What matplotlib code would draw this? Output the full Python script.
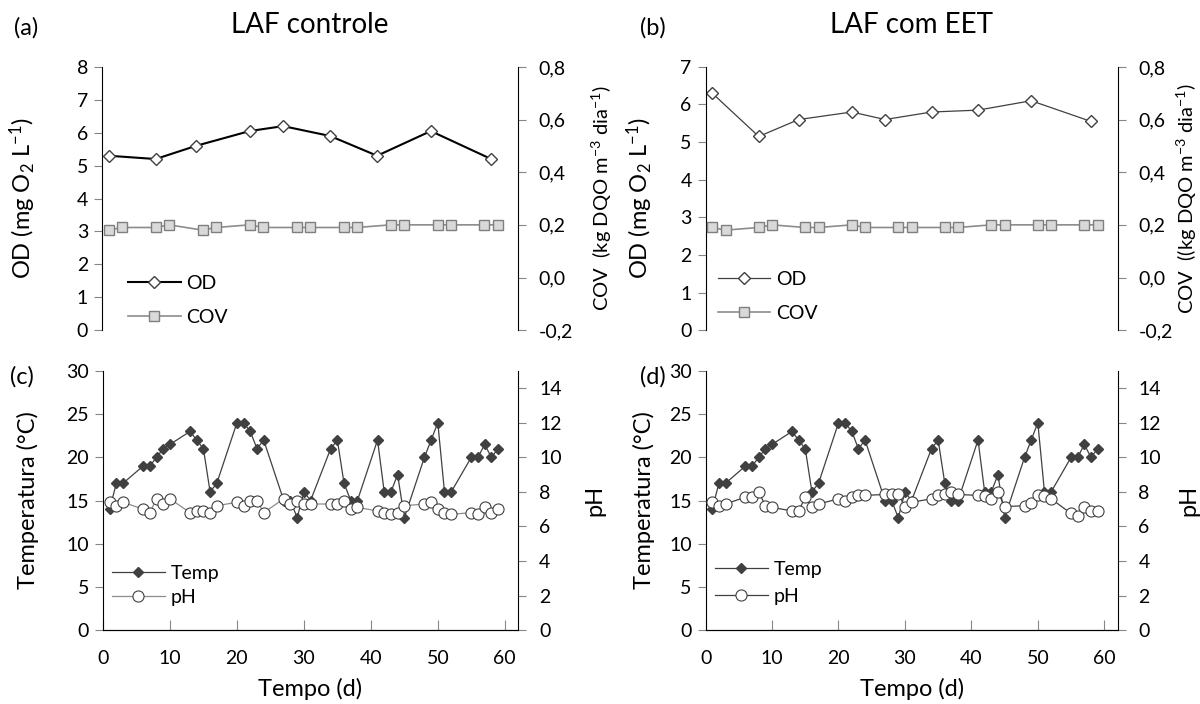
import numpy as np
import matplotlib
matplotlib.use("Agg")
import matplotlib.pyplot as plt
from matplotlib.ticker import FuncFormatter

plt.rcParams['font.family'] = ['Lato', 'DejaVu Sans']
plt.rcParams['mathtext.default'] = 'regular'

# OD and COV (top panels)
od_days = [1, 8, 14, 22, 27, 34, 41, 49, 58]
od_control = [5.3, 5.2, 5.6, 6.05, 6.2, 5.9, 5.3, 6.05, 5.2]
od_eet = [6.3, 5.15, 5.6, 5.8, 5.6, 5.8, 5.85, 6.1, 5.55]

cov_days = [1, 3, 8, 10, 15, 17, 22, 24, 29, 31, 36, 38, 43, 45, 50, 52, 57, 59]
cov_control = [0.18, 0.19, 0.19, 0.20, 0.18, 0.19, 0.20, 0.19, 0.19,
               0.19, 0.19, 0.19, 0.20, 0.20, 0.20, 0.20, 0.20, 0.20]
cov_eet = [0.19, 0.18, 0.19, 0.20, 0.19, 0.19, 0.20, 0.19, 0.19,
           0.19, 0.19, 0.19, 0.20, 0.20, 0.20, 0.20, 0.20, 0.20]

# Temperature and pH (bottom panels)
days = [1, 2, 3, 6, 7, 8, 9, 10, 13, 14, 15, 16, 17, 20, 21, 22, 23, 24,
        27, 28, 29, 30, 31, 34, 35, 36, 37, 38, 41, 42, 43, 44, 45,
        48, 49, 50, 51, 52, 55, 56, 57, 58, 59]
temp_control = [14, 17, 17, 19, 19, 20, 21, 21.5, 23, 22, 21, 16, 17, 24, 24, 23, 21, 22,
                15, 15, 13, 16, 15, 21, 22, 17, 15, 15, 22, 16, 16, 18, 13,
                20, 22, 24, 16, 16, 20, 20, 21.5, 20, 21]
temp_eet = [14, 17, 17, 19, 19, 20, 21, 21.5, 23, 22, 21, 16, 17, 24, 24, 23, 21, 22,
            15, 15, 13, 16, 15, 21, 22, 17, 15, 15, 22, 16, 16, 18, 13,
            20, 22, 24, 16, 16, 20, 20, 21.5, 20, 21]
ph_control = [7.4, 7.2, 7.4, 7.0, 6.8, 7.6, 7.3, 7.6, 6.8, 6.9, 6.9, 6.8, 7.2, 7.4, 7.2, 7.5, 7.5, 6.8,
              7.6, 7.3, 7.5, 7.3, 7.3, 7.3, 7.3, 7.5, 7.0, 7.1, 6.9, 6.8, 6.7, 6.8, 7.2,
              7.3, 7.4, 7.0, 6.8, 6.7, 6.8, 6.7, 7.1, 6.8, 7.0]
ph_eet = [7.4, 7.2, 7.3, 7.7, 7.7, 8.0, 7.2, 7.1, 6.9, 6.9, 7.7, 7.1, 7.3, 7.6, 7.5, 7.7, 7.8, 7.8,
          7.85, 7.85, 7.9, 7.15, 7.4, 7.6, 7.8, 7.9, 8.0, 7.85, 7.8, 7.75, 7.6, 8.0, 7.15,
          7.2, 7.35, 7.8, 7.75, 7.6, 6.75, 6.6, 7.1, 6.9, 6.9]

TICK = 14
LABEL = 17
TICKCOL = '#868686'

fig = plt.figure(figsize=(12, 7.04), dpi=100)


def comma(v, pos):
    return ("%.1f" % v).replace(".", ",")


def base_axes(rect, bottom_axis):
    ax = fig.add_axes(rect)
    ax2 = ax.twinx()
    for a in (ax, ax2):
        a.spines['top'].set_visible(False)
        a.spines['bottom'].set_visible(bottom_axis)
        a.set_xlim(0, 62)
    ax2.spines['left'].set_visible(False)
    ax.spines['right'].set_visible(False)
    ax.tick_params(axis='y', direction='out', length=6, color=TICKCOL, labelsize=TICK, pad=4)
    ax2.tick_params(axis='y', direction='out', length=6, color=TICKCOL, labelsize=TICK, pad=9)
    if bottom_axis:
        ax.tick_params(axis='x', direction='in', length=7, color=TICKCOL, labelsize=TICK, pad=14)
        ax.set_xticks(range(0, 61, 10))
        ax.set_xlabel('Tempo (d)', fontsize=LABEL)
        ax.xaxis.set_label_coords(0.5, -0.185)
    else:
        ax.tick_params(axis='x', bottom=False, labelbottom=False)
    ax2.tick_params(axis='x', bottom=False, labelbottom=False)
    return ax, ax2


def top_panel(rect, od, cov, od_ymax, od_lw, od_col, cov_label, left_x, right_x, leg_pos):
    ax, ax2 = base_axes(rect, False)
    l1, = ax.plot(od_days, od, color=od_col, lw=od_lw, marker='D', ms=6.6,
                  mfc='white', mec='#404040', mew=1, label='OD')
    l2, = ax2.plot(cov_days, cov, color='#8c8c8c', lw=1.2, marker='s', ms=7.7,
                   mfc='#d9d9d9', mec='#7f7f7f', mew=1, label='COV')
    ax.set_ylim(0, od_ymax)
    ax.set_yticks(range(0, od_ymax + 1))
    ax2.set_ylim(-0.2, 0.8)
    ax2.set_yticks(np.arange(-0.2, 0.81, 0.2))
    ax2.yaxis.set_major_formatter(FuncFormatter(comma))
    ax.set_ylabel('OD (mg O$_2$ L$^{-1}$)', fontsize=LABEL)
    ax.yaxis.set_label_coords(left_x, 0.5)
    ax2.set_ylabel(cov_label, fontsize=14.5)
    ax2.yaxis.set_label_coords(right_x, 0.5)
    ax2.legend([l1, l2], ['OD', 'COV'], loc='center left', bbox_to_anchor=leg_pos,
               frameon=False, fontsize=TICK, handlelength=2.7, handletextpad=0.3,
               borderpad=0, borderaxespad=0, labelspacing=0.9)
    return ax, ax2


def bottom_panel(rect, temp, ph, ph_col, left_x, right_x, leg_pos, spacing):
    ax, ax2 = base_axes(rect, True)
    l1, = ax.plot(days, temp, color='#404040', lw=0.9, marker='D', ms=5.6,
                  mfc='#404040', mec='#404040', label='Temp')
    l2, = ax2.plot(days, ph, color=ph_col, lw=0.9, marker='o', ms=8,
                   mfc='white', mec='#404040', mew=0.8, label='pH')
    ax.set_ylim(0, 30)
    ax.set_yticks(range(0, 31, 5))
    ax2.set_ylim(0, 15)
    ax2.set_yticks(range(0, 15, 2))
    ax.set_ylabel('Temperatura (°C)', fontsize=LABEL)
    ax.yaxis.set_label_coords(left_x, 0.5)
    ax2.set_ylabel('pH', fontsize=LABEL)
    ax2.yaxis.set_label_coords(right_x, 0.5)
    ax2.legend([l1, l2], ['Temp', 'pH'], loc='center left', bbox_to_anchor=leg_pos,
               frameon=False, fontsize=TICK, handlelength=2.7, handletextpad=0.3,
               borderpad=0, borderaxespad=0, labelspacing=spacing)
    return ax, ax2


ax_a, _ = top_panel([0.085, 0.531, 0.3467, 0.374], od_control, cov_control, 8, 1.5, 'black',
                    'COV  (kg DQO m$^{-3}$ dia$^{-1}$)', -0.155, 1.172, (0.0625, 0.113))
ax_b, _ = top_panel([0.588, 0.531, 0.3433, 0.374], od_eet, cov_eet, 7, 0.9, '#404040',
                    'COV  ((kg DQO m$^{-3}$ dia$^{-1}$)', -0.123, 1.138, (0.03, 0.128))
ax_c, _ = bottom_panel([0.0858, 0.105, 0.346, 0.368], temp_control, ph_control, '#8c8c8c',
                       -0.155, 1.16, (0.022, 0.174), 0.36)
ax_d, _ = bottom_panel([0.588, 0.105, 0.3433, 0.368], temp_eet, ph_eet, '#404040',
                       -0.123, 1.148, (0.023, 0.183), 0.5)

fig.text(0.2583, 0.964, 'LAF controle', fontsize=20, ha='center', va='center')
fig.text(0.7597, 0.964, 'LAF com EET', fontsize=20, ha='center', va='center')
fig.text(0.012, 0.960, '(a)', fontsize=17, ha='left', va='center')
fig.text(0.533, 0.960, '(b)', fontsize=17, ha='left', va='center')
fig.text(0.008, 0.465, '(c)', fontsize=17, ha='left', va='center')
fig.text(0.533, 0.465, '(d)', fontsize=17, ha='left', va='center')

fig.savefig('out.png', dpi=100)
